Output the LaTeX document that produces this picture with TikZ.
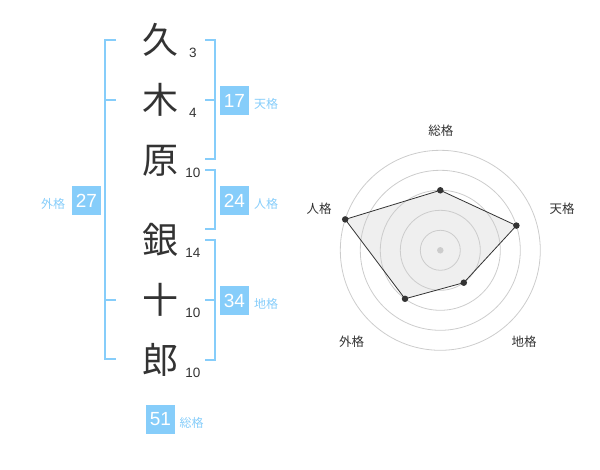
\documentclass[tikz,border=0pt]{standalone}
\usepackage{fontspec}
\setmainfont{Liberation Sans}
\newfontfamily\cjk{Noto Sans CJK JP}
\definecolor{sky}{RGB}{134,205,250}
\definecolor{ink}{RGB}{51,51,51}
\definecolor{ring}{RGB}{204,204,204}
\definecolor{polyfill}{RGB}{239,239,239}
\begin{document}
\begin{tikzpicture}[x=1pt,y=-1pt,
  kanji/.style={font=\cjk\fontsize{36}{36}\selectfont, text=ink, anchor=base, inner sep=0},
  strokes/.style={font=\fontsize{13.5}{13.5}\selectfont, text=ink, anchor=base, inner sep=0},
  scorebox/.style={fill=sky, minimum size=29pt, inner sep=0, text=white, font=\fontsize{19}{19}\selectfont},
  kaku/.style={font=\cjk\fontsize{12}{12}\selectfont, text=sky, inner sep=0, anchor=base},
  bracket/.style={draw=sky, line width=2pt},
  axislabel/.style={font=\cjk\fontsize{12.5}{12.5}\selectfont, text=ink, inner sep=0, anchor=base},
  ringline/.style={draw=ring, line width=0.8pt},
  vertex/.style={circle, fill=ink, minimum size=6.5pt, inner sep=0},
  hub/.style={circle, fill=ring, minimum size=6.5pt, inner sep=0}
]
\useasboundingbox (0,0) rectangle (600,470);

% name characters
\node[kanji] (k1) at (160,53.7) {久};
\node[kanji] (k2) at (160,113.7) {木};
\node[kanji] (k3) at (160,173.7) {原};
\node[kanji] (k4) at (160,253.7) {銀};
\node[kanji] (k5) at (160,313.7) {十};
\node[kanji] (k6) at (160,373.7) {郎};

% stroke counts
\node[strokes] (n1) at (193,57.5) {3};
\node[strokes] (n2) at (193,117.5) {4};
\node[strokes] (n3) at (193,177.5) {10};
\node[strokes] (n4) at (193,257.5) {14};
\node[strokes] (n5) at (193,317.5) {10};
\node[strokes] (n6) at (193,377.5) {10};

% brackets
\draw[bracket] (116,40) -- (105,40) -- (105,359.5) -- (116,359.5);
\draw[bracket] (105,100) -- (116,100);
\draw[bracket] (105,300) -- (116,300);

\draw[bracket] (205,40) -- (215,40) -- (215,159.5) -- (205,159.5);
\draw[bracket] (205,100) -- (215,100);
\draw[bracket] (205,170.5) -- (215,170.5) -- (215,229.5) -- (205,229.5);
\draw[bracket] (205,240) -- (215,240) -- (215,360) -- (205,360);
\draw[bracket] (205,300) -- (215,300);

% score boxes and labels
\node[scorebox] (b17) at (234.5,100.5) {17};
\node[kaku] (t17) at (266,108.5) {天格};
\node[scorebox] (b24) at (234.5,200.5) {24};
\node[kaku] (t24) at (266,208.5) {人格};
\node[scorebox] (b34) at (234.5,300.5) {34};
\node[kaku] (t34) at (266,308.5) {地格};
\node[scorebox] (b27) at (86.5,200.5) {27};
\node[kaku] (t27) at (53,208.5) {外格};
\node[scorebox] (b51) at (160.5,419) {51};
\node[kaku] (t51) at (191.7,427) {総格};

% radar chart
\coordinate (C) at (440.3,250.3);
\coordinate (pS) at (440.3,190.3);
\coordinate (pT) at (516.4,225.6);
\coordinate (pC) at (463.8,282.7);
\coordinate (pG) at (405.0,298.8);
\coordinate (pJ) at (345.2,219.4);

\fill[polyfill] (pS) -- (pT) -- (pC) -- (pG) -- (pJ) -- cycle;
\foreach \r in {20,40,60,80,100}
  \draw[ringline] (C) circle[radius=\r];
\node[hub] (hub) at (C) {};

\node[vertex] (vS) at (pS) {};
\node[vertex] (vT) at (pT) {};
\node[vertex] (vC) at (pC) {};
\node[vertex] (vG) at (pG) {};
\node[vertex] (vJ) at (pJ) {};
\draw[ink, line width=0.8pt] (vS.center) -- (vT.center) -- (vC.center) -- (vG.center) -- (vJ.center) -- cycle;

\node[axislabel] (aS) at (440.8,135.3) {総格};
\node[axislabel] (aT) at (562.2,213.8) {天格};
\node[axislabel] (aC) at (524.2,346.4) {地格};
\node[axislabel] (aG) at (351.7,346.4) {外格};
\node[axislabel] (aJ) at (319.2,213.8) {人格};
\end{tikzpicture}
\end{document}
